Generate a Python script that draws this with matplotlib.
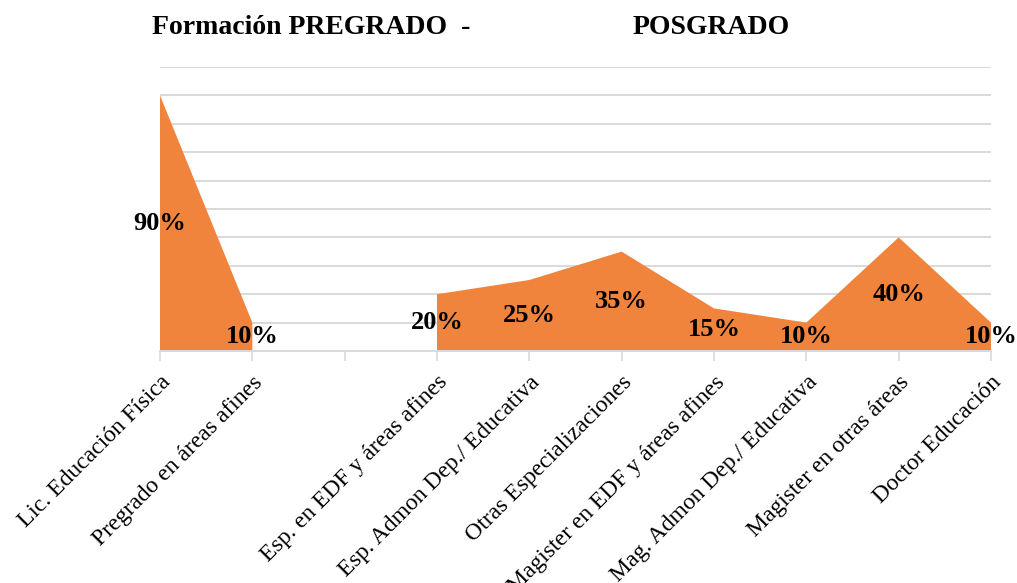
import numpy as np
import matplotlib.pyplot as plt

# Data
categories = ["Lic. Educación Física", "Pregrado en áreas afines", "",
              "Esp. en EDF y áreas afines", "Esp. Admon Dep./ Educativa",
              "Otras Especializaciones", "Magister en EDF y áreas afines",
              "Mag. Admon Dep./ Educativa", "Magister en otras áreas",
              "Doctor Educación"]
values = [90, 10, np.nan, 20, 25, 35, 15, 10, 40, 10]

plt.rcParams['font.family'] = ['Liberation Serif', 'DejaVu Serif']

W, H = 1017, 583
fig = plt.figure(figsize=(W / 100, H / 100), dpi=100)
ax = fig.add_axes([160 / W, (H - 351) / H, (991 - 160) / W, (351 - 67) / H])

x = np.arange(len(categories))
y = np.array(values, dtype=float)
ax.fill_between(x, 0, y, color='#F0843C', linewidth=0, zorder=2)

ax.set_xlim(0, len(categories) - 1)
ax.set_ylim(0, 100)
ax.set_yticks(np.arange(10, 101, 10))
ax.yaxis.grid(True, color='#d9d9d9', linewidth=1.4, zorder=0)
ax.set_axisbelow(True)
ax.tick_params(axis='y', left=False, labelleft=False)
for s in ['top', 'right', 'left']:
    ax.spines[s].set_visible(False)
ax.spines['bottom'].set_color('#d9d9d9')
ax.spines['bottom'].set_linewidth(1.4)

ax.set_xticks(x)
ax.set_xticklabels(categories, rotation=45, ha='right', va='top',
                   rotation_mode='anchor', fontsize=17)
ax.tick_params(axis='x', length=7, width=1.2, color='#d9d9d9', pad=8)

# data labels
for xi, v in zip(x, values):
    if np.isnan(v):
        continue
    ax.text(xi, v / 2, f"{v:.0f}%", ha='center', va='center',
            fontsize=19, fontweight='bold', clip_on=False, zorder=3)

fig.text(152 / W, 1 - 27 / H, "Formación PREGRADO  -", ha='left', va='center',
         fontsize=20, fontweight='bold')
fig.text(633 / W, 1 - 27 / H, "POSGRADO", ha='left', va='center',
         fontsize=20, fontweight='bold')

fig.savefig('out.png', dpi=100)
